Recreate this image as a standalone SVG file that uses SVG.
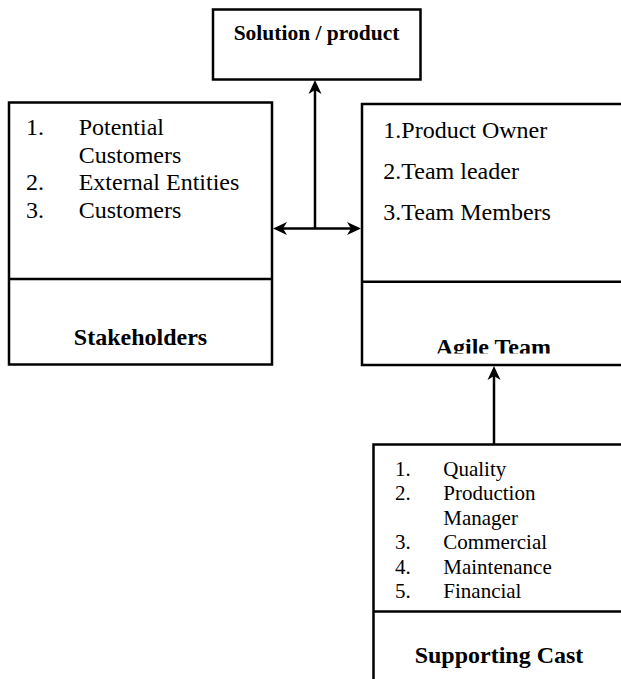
<svg xmlns="http://www.w3.org/2000/svg" width="621" height="679" viewBox="0 0 621 679">
<style>
.box{fill:#fff;stroke:#000;stroke-width:2.5}
.div{stroke:#000;stroke-width:2.5}
.t{font-family:"Liberation Serif","Times New Roman",serif;fill:#000}
.b{font-weight:bold}
.l24{font-size:24px}
.l21{font-size:21px}
.conn{stroke:#000;stroke-width:2.5;fill:none}
</style>
<defs>
<marker id="ah" viewBox="0 0 14 14" refX="4" refY="7" markerWidth="14" markerHeight="14" markerUnits="userSpaceOnUse" orient="auto-start-reverse">
<path d="M0,0.5 L14,7 L0,13.5 L4,7 Z" fill="#000"/>
</marker>
<clipPath id="agileclip"><rect x="362" y="282" width="263" height="71.5"/></clipPath>
</defs>
<rect width="621" height="679" fill="#fff"/>
<g id="solution">
<rect class="box" x="213" y="9.5" width="207.5" height="70"/>
<text class="t b" x="316.5" y="40" font-size="21.5" text-anchor="middle">Solution / product</text>
</g>
<g id="stakeholders">
<rect class="box" x="9" y="102.5" width="263" height="262"/>
<line class="div" x1="9" y1="279" x2="272" y2="279"/>
<g class="t l24">
<text x="26" y="135">1.</text><text x="78.7" y="135">Potential</text>
<text x="78.7" y="162.5">Customers</text>
<text x="26" y="190">2.</text><text x="78.7" y="190">External Entities</text>
<text x="26" y="217.5">3.</text><text x="78.7" y="217.5">Customers</text>
</g>
<text class="t b l24" x="140.5" y="345" text-anchor="middle">Stakeholders</text>
</g>
<g id="agile-team">
<rect class="box" x="362" y="104" width="263" height="261"/>
<line class="div" x1="362" y1="281.7" x2="625" y2="281.7"/>
<g class="t l24">
<text x="383.3" y="137.5">1.Product Owner</text>
<text x="383.3" y="178.5">2.Team leader</text>
<text x="383.3" y="219.5">3.Team Members</text>
</g>
<text class="t b l24" x="493.3" y="354.5" text-anchor="middle" clip-path="url(#agileclip)">Agile Team</text>
</g>
<g id="supporting-cast">
<rect class="box" x="373.5" y="444.5" width="252" height="240"/>
<line class="div" x1="373.5" y1="611.5" x2="625.5" y2="611.5"/>
<g class="t l21">
<text x="395" y="475.5">1.</text><text x="443.3" y="475.5">Quality</text>
<text x="395" y="500">2.</text><text x="443.3" y="500">Production</text>
<text x="443.3" y="524.5">Manager</text>
<text x="395" y="549">3.</text><text x="443.3" y="549">Commercial</text>
<text x="395" y="573.5">4.</text><text x="443.3" y="573.5">Maintenance</text>
<text x="395" y="597.5">5.</text><text x="443.3" y="597.5">Financial</text>
</g>
<text class="t b l24" x="499" y="662.5" text-anchor="middle">Supporting Cast</text>
</g>
<g id="connectors">
<line class="conn" x1="315" y1="228.5" x2="315" y2="90" marker-end="url(#ah)"/>
<line class="conn" x1="283" y1="228.5" x2="351" y2="228.5" marker-start="url(#ah)" marker-end="url(#ah)"/>
<line class="conn" x1="494" y1="444" x2="494" y2="376" marker-end="url(#ah)"/>
</g>
</svg>
